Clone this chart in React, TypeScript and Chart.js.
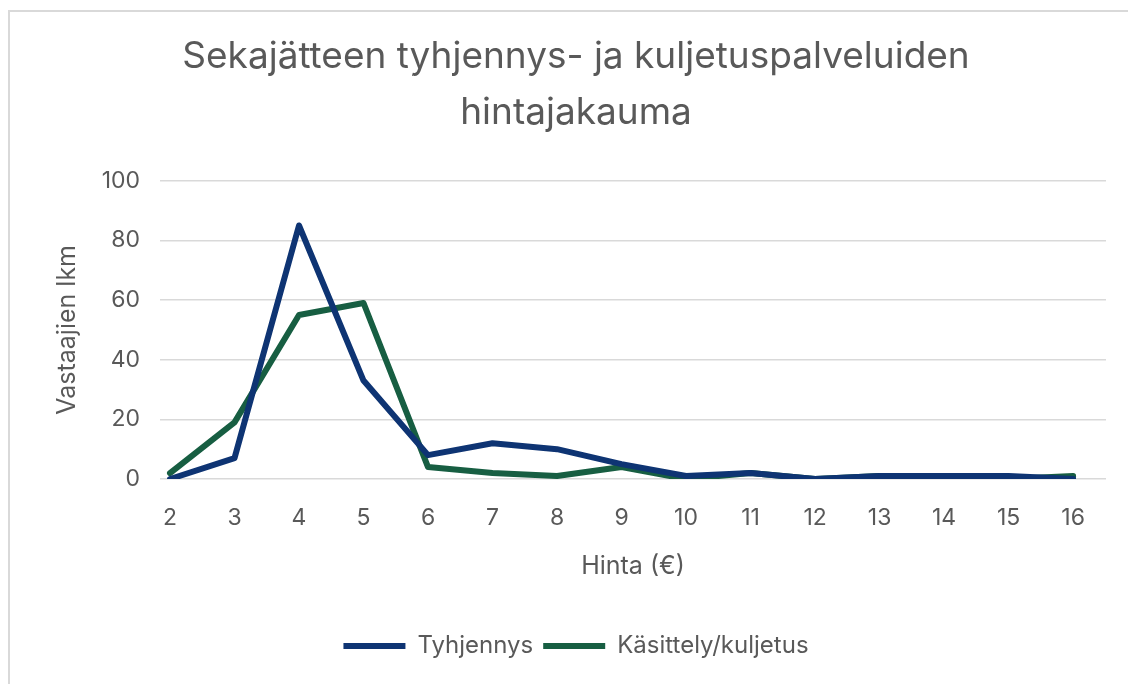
import React, { useEffect, useRef } from "react";
import { Chart, registerables } from "chart.js";

Chart.register(...registerables);

const prices = [2, 3, 4, 5, 6, 7, 8, 9, 10, 11, 12, 13, 14, 15, 16];
const tyhjennys = [0, 7, 85, 33, 8, 12, 10, 5, 1, 2, 0, 1, 1, 1, 0];
const kasittely = [2, 19, 55, 59, 4, 2, 1, 4, 0, 2, 0, 1, 0, 0, 1];
const yTicks = [0, 20, 40, 60, 80, 100];
const seriesLabels = ["Tyhjennys", "Käsittely/kuljetus"];
const seriesColors = ["#0E3473", "#175E42"];
const titleLines = ["Sekajätteen tyhjennys- ja kuljetuspalveluiden", "hintajakauma"];
const xTitle = "Hinta (€)";
const yTitle = "Vastaajien lkm";

const TEXT = "#595959";
const FONT = "Inter, 'Liberation Sans', Arial, sans-serif";

export default function App() {
  const ref = useRef<HTMLCanvasElement | null>(null);

  useEffect(() => {
    if (!ref.current) return;
    const chart = new Chart(ref.current, {
      type: "line",
      data: {
        datasets: [tyhjennys, kasittely].map((vals, i) => ({
          label: seriesLabels[i],
          data: prices.map((p, j) => ({ x: p, y: vals[j] })),
          borderColor: seriesColors[i],
          backgroundColor: seriesColors[i],
          borderWidth: 6,
          pointRadius: 0,
          tension: 0,
          borderJoinStyle: "round",
          borderCapStyle: "round",
        })),
      },
      options: {
        animation: false,
        responsive: false,
        layout: { padding: { left: 46, right: 22, top: 10, bottom: 16 } },
        plugins: {
          title: {
            display: true,
            text: titleLines,
            color: TEXT,
            font: { family: FONT, size: 37, weight: "normal", lineHeight: 1.51 },
            padding: { top: 19, bottom: 40 },
          },
          legend: {
            position: "bottom",
            labels: {
              boxWidth: 62,
              boxHeight: 6,
              color: TEXT,
              padding: 10,
              font: { family: FONT, size: 24 },
              generateLabels: (c: any) =>
                c.data.datasets.map((ds: any, i: number) => ({
                  text: ds.label,
                  fillStyle: ds.borderColor,
                  strokeStyle: ds.borderColor,
                  lineWidth: 0,
                  hidden: false,
                  datasetIndex: i,
                  fontColor: TEXT,
                })),
            },
          },
          tooltip: { enabled: false },
        },
        scales: {
          x: {
            type: "linear",
            min: 1.845,
            max: 16.51,
            afterBuildTicks: (s: any) => {
              s.ticks = prices.map((v) => ({ value: v }));
            },
            afterFit: (s: any) => {
              s.height = 145;
            },
            grid: { display: false, drawTicks: false },
            border: { display: false },
            ticks: { color: TEXT, font: { family: FONT, size: 23 }, padding: 25, maxRotation: 0 },
            title: {
              display: true,
              text: xTitle,
              color: TEXT,
              font: { family: FONT, size: 25 },
              padding: { top: 0, bottom: 43 },
            },
          },
          y: {
            min: 0,
            max: 100,
            afterBuildTicks: (s: any) => {
              s.ticks = yTicks.map((v) => ({ value: v }));
            },
            afterFit: (s: any) => {
              s.width = 114;
            },
            grid: { color: "#d9d9d9", lineWidth: 1.5, drawTicks: false },
            border: { display: false },
            ticks: { color: TEXT, font: { family: FONT, size: 23 }, padding: 20 },
            title: {
              display: true,
              text: yTitle,
              color: TEXT,
              font: { family: FONT, size: 25 },
              padding: { top: 6, bottom: 0 },
            },
          },
        },
      },
    } as any);
    return () => chart.destroy();
  }, []);

  return (
    <div style={{ position: "fixed", left: 0, top: 0, width: 1128, height: 684, background: "#fff" }}>
      <div
        style={{
          position: "absolute",
          left: 8,
          top: 10,
          width: 1130,
          height: 690,
          borderTop: "2px solid #d9d9d9",
          borderLeft: "2px solid #d9d9d9",
        }}
      />
      <canvas ref={ref} width={1128} height={684} style={{ position: "absolute", left: 0, top: 0 }} />
    </div>
  );
}
